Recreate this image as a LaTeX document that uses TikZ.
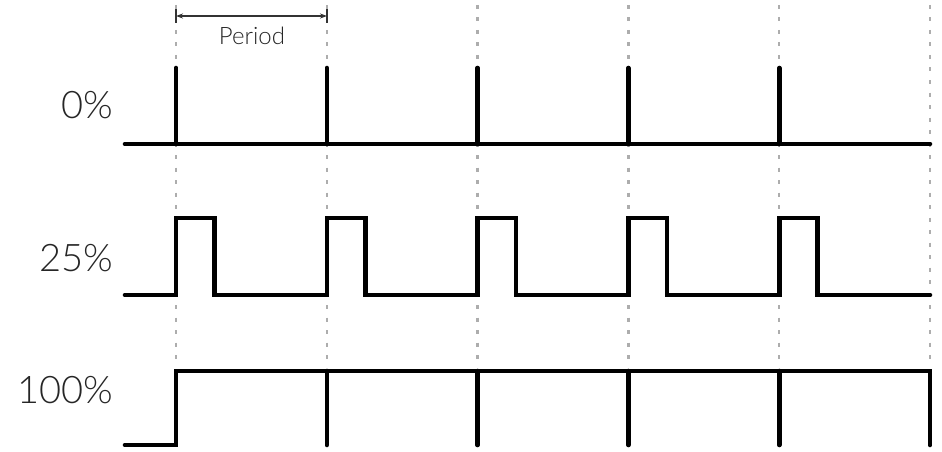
\documentclass[tikz,border=0pt]{standalone}
\usepackage{fontspec}
\setmainfont{Lato Light}
\usetikzlibrary{arrows.meta}
\begin{document}
\begin{tikzpicture}[x=1pt,y=-1pt,
  signal/.style={line width=4.6pt, line cap=round, line join=miter},
  gridline/.style={draw=black!32, line width=2.4pt, dash pattern=on 4pt off 8.5pt},
  dimline/.style={draw=black!80, line width=1.1pt},
  duty/.style={anchor=east, inner sep=0pt, text=black!85, font=\fontsize{38}{38}\selectfont},
  dimlabel/.style={inner sep=0pt, text=black!85, font=\fontsize{24}{24}\selectfont}]
\useasboundingbox (0,0) rectangle (942,452);
\def\per{150.8}
% period grid
\foreach \i in {0,...,5}
  \draw[gridline] ({176+\per*\i},5) -- ({176+\per*\i},366);
% period dimension
\coordinate (pa) at (176,16);
\coordinate (pb) at (327,16);
\draw[dimline] ([yshift=-7pt]pa) -- ([yshift=7pt]pa);
\draw[dimline] ([yshift=-7pt]pb) -- ([yshift=7pt]pb);
\draw[dimline, {Stealth[length=7pt,width=5pt]}-{Stealth[length=7pt,width=5pt]}] (pa) -- (pb);
\node[dimlabel] (period) at (252,36) {Period};
% duty-cycle labels
\node[duty] (d0) at (113,105) {0\%};
\node[duty] (d25) at (113,258) {25\%};
\node[duty] (d100) at (113,390) {100\%};
% 0 % duty cycle
\draw[signal] (125,144) -- (930,144);
\foreach \i in {0,...,4}
  \draw[signal] ({176+\per*\i},68) -- ({176+\per*\i},144);
% 25 % duty cycle
\draw[signal] (125,295)
  \foreach \i in {0,...,4}{
    -- ({176+\per*\i},295) -- ({176+\per*\i},218)
    -- ({176+\per*\i+38.5},218) -- ({176+\per*\i+38.5},295)}
  -- (930,295);
% 100 % duty cycle
\draw[signal] (125,445) -- (176,445) -- (176,371) -- (930,371) -- (930,445);
\foreach \i in {1,...,4}
  \draw[signal] ({176+\per*\i},371) -- ({176+\per*\i},445);
\end{tikzpicture}
\end{document}
